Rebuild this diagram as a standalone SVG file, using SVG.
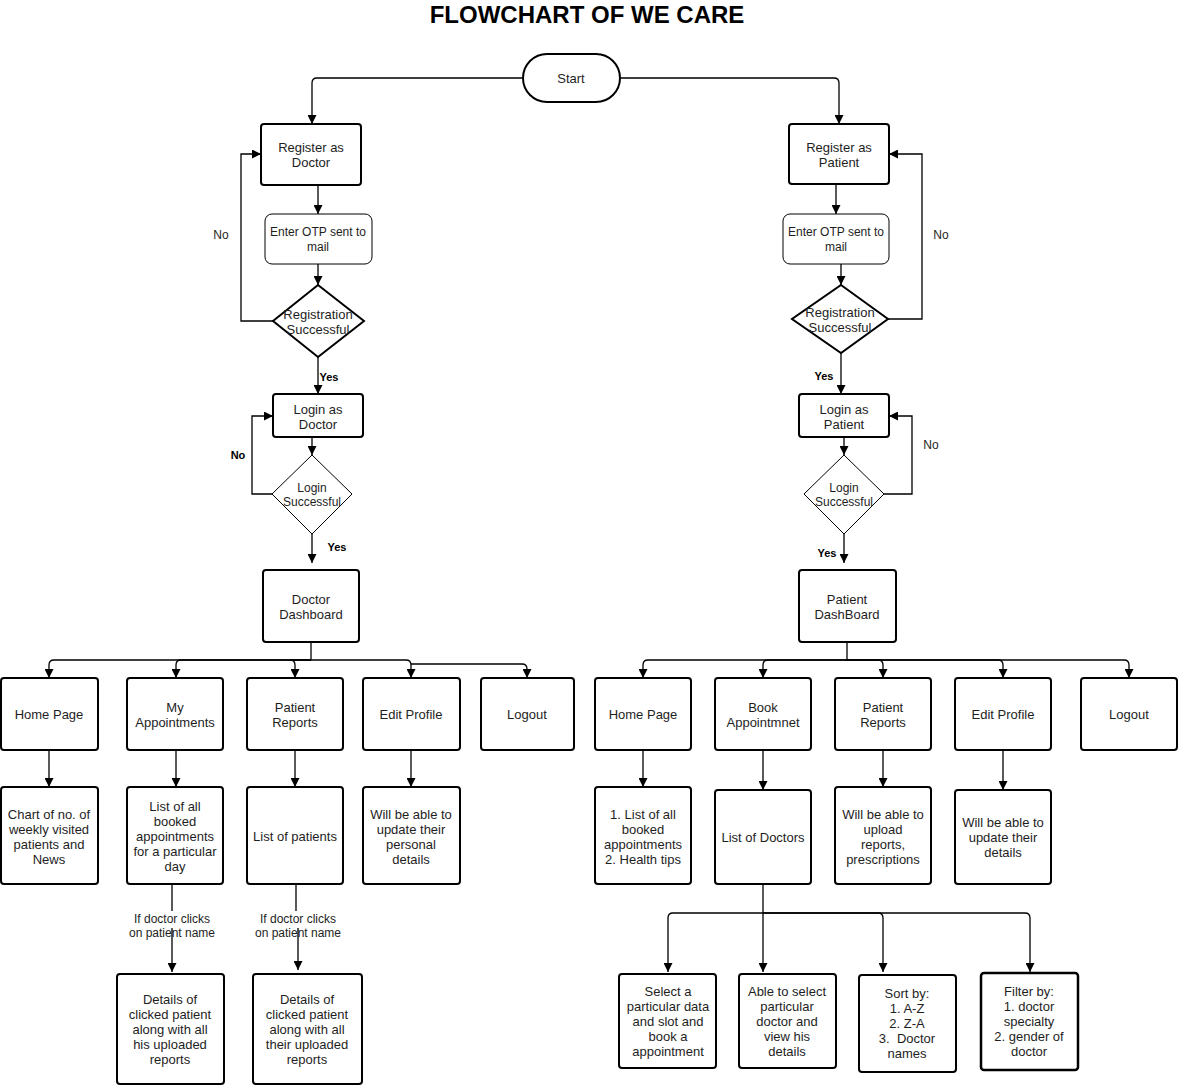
<svg xmlns="http://www.w3.org/2000/svg" width="1178" height="1086" viewBox="0 0 1178 1086">
<defs>
<style>
text{font-family:"Liberation Sans",Arial,Helvetica,sans-serif;font-size:13px;fill:#1e1e1e;text-anchor:middle}
.s{font-size:12px}
.lb{font-size:11px;font-weight:bold;fill:#000}
.b{fill:#fff;stroke:#000;stroke-width:2}
.t{fill:#fff;stroke:#000;stroke-width:1}
.c{fill:none;stroke:#000;stroke-width:1.3}
</style>
<marker id="a" viewBox="0 0 10 10" refX="10" refY="5" markerWidth="9" markerHeight="9" markerUnits="userSpaceOnUse" orient="auto">
<path d="M0,0 L10,5 L0,10 z" fill="#000"/>
</marker>
</defs>
<rect width="1178" height="1086" fill="#fff"/>
<text x="587" y="23" style="font-size:24px;font-weight:bold;fill:#000">FLOWCHART OF WE CARE</text>

<g id="connectors">
<path class="c" marker-end="url(#a)" d="M523,78 H317 Q312,78 312,83 V124"/>
<path class="c" marker-end="url(#a)" d="M620,78 H834 Q839,78 839,83 V124"/>
<path class="c" marker-end="url(#a)" d="M318,185 V214"/>
<path class="c" marker-end="url(#a)" d="M318,264 V285"/>
<path class="c" marker-end="url(#a)" d="M273,321 H241 V154 H261"/>
<path class="c" marker-end="url(#a)" d="M318,357 V394"/>
<path class="c" marker-end="url(#a)" d="M312,437 V455"/>
<path class="c" marker-end="url(#a)" d="M272,494 H252 V416 H273"/>
<path class="c" marker-end="url(#a)" d="M312,534 V563"/>
<path class="c" marker-end="url(#a)" d="M836,184 V214"/>
<path class="c" marker-end="url(#a)" d="M841,264 V285"/>
<path class="c" marker-end="url(#a)" d="M888,319 H922 V154 H889"/>
<path class="c" marker-end="url(#a)" d="M841,353 V394"/>
<path class="c" marker-end="url(#a)" d="M844,437 V455"/>
<path class="c" marker-end="url(#a)" d="M884,494 H912 V416 H889"/>
<path class="c" marker-end="url(#a)" d="M844,534 V563"/>
<path class="c" d="M311,642 V660"/>
<path class="c" marker-end="url(#a)" d="M311,660 H54 Q49,660 49,665 V678"/>
<path class="c" marker-end="url(#a)" d="M311,660 H181 Q176,660 176,665 V678"/>
<path class="c" marker-end="url(#a)" d="M311,660 H290 Q295,660 295,665 V678"/>
<path class="c" marker-end="url(#a)" d="M311,660 H406 Q411,660 411,665 V678"/>
<path class="c" marker-end="url(#a)" d="M411,664 H522 Q527,664 527,669 V678"/>
<path class="c" d="M847,642 V660"/>
<path class="c" marker-end="url(#a)" d="M847,660 H648 Q643,660 643,665 V678"/>
<path class="c" marker-end="url(#a)" d="M847,660 H768 Q763,660 763,665 V678"/>
<path class="c" marker-end="url(#a)" d="M847,660 H878 Q883,660 883,665 V678"/>
<path class="c" marker-end="url(#a)" d="M847,660 H998 Q1003,660 1003,665 V678"/>
<path class="c" marker-end="url(#a)" d="M847,660 H1124 Q1129,660 1129,665 V678"/>
<path class="c" marker-end="url(#a)" d="M49,750 V787"/>
<path class="c" marker-end="url(#a)" d="M176,750 V787"/>
<path class="c" marker-end="url(#a)" d="M295,750 V787"/>
<path class="c" marker-end="url(#a)" d="M411,750 V787"/>
<path class="c" marker-end="url(#a)" d="M643,750 V787"/>
<path class="c" marker-end="url(#a)" d="M763,750 V790"/>
<path class="c" marker-end="url(#a)" d="M883,750 V787"/>
<path class="c" marker-end="url(#a)" d="M1003,750 V790"/>
<path class="c" marker-end="url(#a)" d="M172,884 V972"/>
<path class="c" marker-end="url(#a)" d="M296,884 V925 H298 V970"/>
<path class="c" d="M763,884 V913"/>
<path class="c" marker-end="url(#a)" d="M763,913 H673 Q668,913 668,918 V972"/>
<path class="c" marker-end="url(#a)" d="M763,913 V972"/>
<path class="c" marker-end="url(#a)" d="M763,913 H878 Q883,913 883,918 V972"/>
<path class="c" marker-end="url(#a)" d="M763,913 H1025 Q1030,913 1030,918 V972"/>
<rect x="128" y="911" width="88" height="17" fill="#fff"/>
<rect x="254" y="911" width="88" height="17" fill="#fff"/>
<text class="s" x="172" y="923">If doctor clicks</text>
<text class="s" x="172" y="937">on patient name</text>
<text class="s" x="298" y="923">If doctor clicks</text>
<text class="s" x="298" y="937">on patient name</text>
<text class="s" x="221" y="239">No</text>
<text class="lb" x="329" y="381">Yes</text>
<text class="lb" x="238" y="459">No</text>
<text class="lb" x="337" y="551">Yes</text>
<text class="s" x="941" y="239">No</text>
<text class="lb" x="824" y="380">Yes</text>
<text class="s" x="931" y="449">No</text>
<text class="lb" x="827" y="557">Yes</text>
</g>

<g id="start"><rect class="b" x="523" y="54" width="97" height="48" rx="24"/><text x="571" y="82.5">Start</text></g>

<g id="reg-doctor"><rect class="b" x="261" y="124" width="100" height="61" rx="3"/><text x="311" y="152">Register as</text><text x="311" y="167">Doctor</text></g>
<g id="otp-doctor"><rect class="t" x="265" y="214" width="107" height="50" rx="7"/><text class="s" x="318" y="236">Enter OTP sent to</text><text class="s" x="318" y="251">mail</text></g>
<g id="regok-doctor"><polygon class="b" points="318,285 364,321 318,357 273,321"/><text x="318" y="318.5">Registration</text><text x="318" y="333.5">Successful</text></g>
<g id="login-doctor"><rect class="b" x="273" y="394" width="90" height="43" rx="3"/><text x="318" y="413.5">Login as</text><text x="318" y="428.5">Doctor</text></g>
<g id="loginok-doctor"><polygon class="t" points="312,455 352,494 312,534 272,494"/><text class="s" x="312" y="492">Login</text><text class="s" x="312" y="506">Successful</text></g>
<g id="doctor-dashboard"><rect class="b" x="263" y="570" width="96" height="72" rx="3"/><text x="311" y="603.5">Doctor</text><text x="311" y="618.5">Dashboard</text></g>

<g id="reg-patient"><rect class="b" x="789" y="124" width="100" height="60" rx="3"/><text x="839" y="152">Register as</text><text x="839" y="167">Patient</text></g>
<g id="otp-patient"><rect class="t" x="783" y="214" width="106" height="50" rx="7"/><text class="s" x="836" y="236">Enter OTP sent to</text><text class="s" x="836" y="251">mail</text></g>
<g id="regok-patient"><polygon class="b" points="841,285 888,319 841,353 792,319"/><text x="840" y="316.5">Registration</text><text x="840" y="331.5">Successful</text></g>
<g id="login-patient"><rect class="b" x="799" y="394" width="90" height="43" rx="3"/><text x="844" y="413.5">Login as</text><text x="844" y="428.5">Patient</text></g>
<g id="loginok-patient"><polygon class="t" points="844,455 884,494 844,534 804,494"/><text class="s" x="844" y="492">Login</text><text class="s" x="844" y="506">Successful</text></g>
<g id="patient-dashboard"><rect class="b" x="799" y="570" width="97" height="72" rx="3"/><text x="847" y="603.5">Patient</text><text x="847" y="618.5">DashBoard</text></g>

<g id="d-home"><rect class="b" x="1" y="678" width="97" height="72" rx="3"/><text x="49" y="718.5">Home Page</text></g>
<g id="d-appt"><rect class="b" x="127" y="678" width="96" height="72" rx="3"/><text x="175" y="711.5">My</text><text x="175" y="726.5">Appointments</text></g>
<g id="d-reports"><rect class="b" x="247" y="678" width="96" height="72" rx="3"/><text x="295" y="711.5">Patient</text><text x="295" y="726.5">Reports</text></g>
<g id="d-edit"><rect class="b" x="363" y="678" width="97" height="72" rx="3"/><text x="411" y="718.5">Edit Profile</text></g>
<g id="d-logout"><rect class="b" x="481" y="678" width="93" height="72" rx="3"/><text x="527" y="718.5">Logout</text></g>

<g id="d-chart"><rect class="b" x="1" y="787" width="97" height="97" rx="3"/><text x="49" y="818.5">Chart of no. of</text><text x="49" y="833.5">weekly visited</text><text x="49" y="848.5">patients and</text><text x="49" y="863.5">News</text></g>
<g id="d-apptlist"><rect class="b" x="127" y="787" width="96" height="97" rx="3"/><text x="175" y="810.5">List of all</text><text x="175" y="825.5">booked</text><text x="175" y="840.5">appointments</text><text x="175" y="855.5">for a particular</text><text x="175" y="870.5">day</text></g>
<g id="d-patlist"><rect class="b" x="247" y="787" width="96" height="97" rx="3"/><text x="295" y="840.5">List of patients</text></g>
<g id="d-update"><rect class="b" x="363" y="787" width="97" height="97" rx="3"/><text x="411" y="818.5">Will be able to</text><text x="411" y="833.5">update their</text><text x="411" y="848.5">personal</text><text x="411" y="863.5">details</text></g>
<g id="d-details1"><rect class="b" x="117" y="974" width="107" height="110" rx="3"/><text x="170" y="1003.5">Details of</text><text x="170" y="1018.5">clicked patient</text><text x="170" y="1033.5">along with all</text><text x="170" y="1048.5">his uploaded</text><text x="170" y="1063.5">reports</text></g>
<g id="d-details2"><rect class="b" x="253" y="974" width="109" height="110" rx="3"/><text x="307" y="1003.5">Details of</text><text x="307" y="1018.5">clicked patient</text><text x="307" y="1033.5">along with all</text><text x="307" y="1048.5">their uploaded</text><text x="307" y="1063.5">reports</text></g>

<g id="p-home"><rect class="b" x="595" y="678" width="96" height="72" rx="3"/><text x="643" y="718.5">Home Page</text></g>
<g id="p-book"><rect class="b" x="715" y="678" width="96" height="72" rx="3"/><text x="763" y="711.5">Book</text><text x="763" y="726.5">Appointmnet</text></g>
<g id="p-reports"><rect class="b" x="835" y="678" width="96" height="72" rx="3"/><text x="883" y="711.5">Patient</text><text x="883" y="726.5">Reports</text></g>
<g id="p-edit"><rect class="b" x="955" y="678" width="96" height="72" rx="3"/><text x="1003" y="718.5">Edit Profile</text></g>
<g id="p-logout"><rect class="b" x="1081" y="678" width="96" height="72" rx="3"/><text x="1129" y="718.5">Logout</text></g>

<g id="p-homelist"><rect class="b" x="595" y="787" width="96" height="97" rx="3"/><text x="643" y="818.5">1. List of all</text><text x="643" y="833.5">booked</text><text x="643" y="848.5">appointments</text><text x="643" y="863.5">2. Health tips</text></g>
<g id="p-doctors"><rect class="b" x="715" y="790" width="96" height="94" rx="3"/><text x="763" y="841.5">List of Doctors</text></g>
<g id="p-upload"><rect class="b" x="835" y="787" width="96" height="97" rx="3"/><text x="883" y="818.5">Will be able to</text><text x="883" y="833.5">upload</text><text x="883" y="848.5">reports,</text><text x="883" y="863.5">prescriptions</text></g>
<g id="p-update"><rect class="b" x="955" y="790" width="96" height="94" rx="3"/><text x="1003" y="826.5">Will be able to</text><text x="1003" y="841.5">update their</text><text x="1003" y="856.5">details</text></g>

<g id="p-select"><rect class="b" x="619" y="974" width="97" height="94" rx="3"/><text x="668" y="995.5">Select a</text><text x="668" y="1010.5">particular data</text><text x="668" y="1025.5">and slot and</text><text x="668" y="1040.5">book a</text><text x="668" y="1055.5">appointment</text></g>
<g id="p-view"><rect class="b" x="739" y="974" width="97" height="94" rx="3"/><text x="787" y="995.5">Able to select</text><text x="787" y="1010.5">particular</text><text x="787" y="1025.5">doctor and</text><text x="787" y="1040.5">view his</text><text x="787" y="1055.5">details</text></g>
<g id="p-sort"><rect class="b" x="859" y="975" width="97" height="97" rx="3"/><text x="907" y="997.5">Sort by:</text><text x="907" y="1012.5">1. A-Z</text><text x="907" y="1027.5">2. Z-A</text><text x="907" y="1042.5" xml:space="preserve">3.  Doctor</text><text x="907" y="1057.5">names</text></g>
<g id="p-filter"><rect class="b" x="981" y="973" width="97" height="97" rx="3" style="stroke-width:2.5"/><text x="1029" y="995.5">Filter by:</text><text x="1029" y="1010.5">1. doctor</text><text x="1029" y="1025.5">specialty</text><text x="1029" y="1040.5">2. gender of</text><text x="1029" y="1055.5">doctor</text></g>
</svg>
